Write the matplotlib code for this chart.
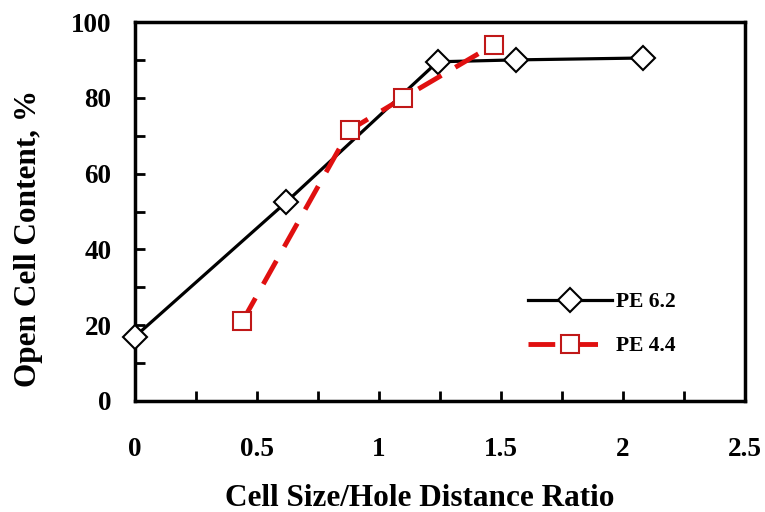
import matplotlib
matplotlib.use("Agg")
import matplotlib.pyplot as plt
from matplotlib.ticker import MultipleLocator

# Data
pe62_x = [0.0, 0.62, 1.24, 1.56, 2.08]
pe62_y = [17.0, 52.5, 89.5, 90.0, 90.5]

pe44_x = [0.44, 0.88, 1.10, 1.47]
pe44_y = [21.0, 71.5, 80.0, 94.0]

x_ticks = [0, 0.5, 1, 1.5, 2, 2.5]
x_tick_labels = ['0', '0.5', '1', '1.5', '2', '2.5']
y_ticks = [0, 20, 40, 60, 80, 100]
y_tick_labels = ['0', '20', '40', '60', '80', '100']

plt.rcParams['font.family'] = ['Liberation Serif', 'DejaVu Serif']
plt.rcParams['font.weight'] = 'bold'

fig = plt.figure(figsize=(7.65, 5.12), dpi=100)
ax = fig.add_axes([135 / 765, 1 - 401 / 512, 610 / 765, 379 / 512])

# PE 6.2: black solid line with open diamonds
ax.plot(pe62_x, pe62_y, color='black', linewidth=2.3, marker='D', markersize=12,
        markerfacecolor='white', markeredgecolor='black', markeredgewidth=1.5,
        label='PE 6.2', zorder=3, clip_on=False)

# PE 4.4: red dashed line with open squares
ax.plot(pe44_x, pe44_y, color='#e01010', linewidth=3.5, linestyle=(0, (5.5, 3.3)),
        marker='s', markersize=13, markerfacecolor='white', markeredgecolor='#c01818',
        markeredgewidth=1.5, label='PE 4.4', zorder=4, clip_on=False)

ax.set_xlim(0, 2.5)
ax.set_ylim(0, 100)
ax.xaxis.set_minor_locator(MultipleLocator(0.25))
ax.yaxis.set_minor_locator(MultipleLocator(10))
ax.set_xticks(x_ticks)
ax.set_xticklabels(x_tick_labels, fontsize=19.5, fontweight='bold')
ax.set_yticks(y_ticks)
ax.set_yticklabels(y_tick_labels, fontsize=19.5, fontweight='bold')

ax.tick_params(which='both', direction='in', width=2, length=7, top=False, right=False)
ax.tick_params(axis='x', which='major', pad=26)
ax.tick_params(axis='y', which='major', pad=17)
for s in ax.spines.values():
    s.set_linewidth(2.5)

ax.set_xlabel('Cell Size/Hole Distance Ratio', fontsize=22.5, fontweight='bold')
ax.set_ylabel('Open Cell Content, %', fontsize=22.5, fontweight='bold')
ax.xaxis.set_label_coords(0.467, -0.218)
ax.yaxis.set_label_coords(-0.15, 0.43)

ax.legend(loc='upper left', bbox_to_anchor=(0.612, 0.338), frameon=False,
          handlelength=3.9, handletextpad=0.2, labelspacing=1.1,
          prop={'weight': 'bold', 'size': 15.5})

fig.savefig('out.png', dpi=100)
